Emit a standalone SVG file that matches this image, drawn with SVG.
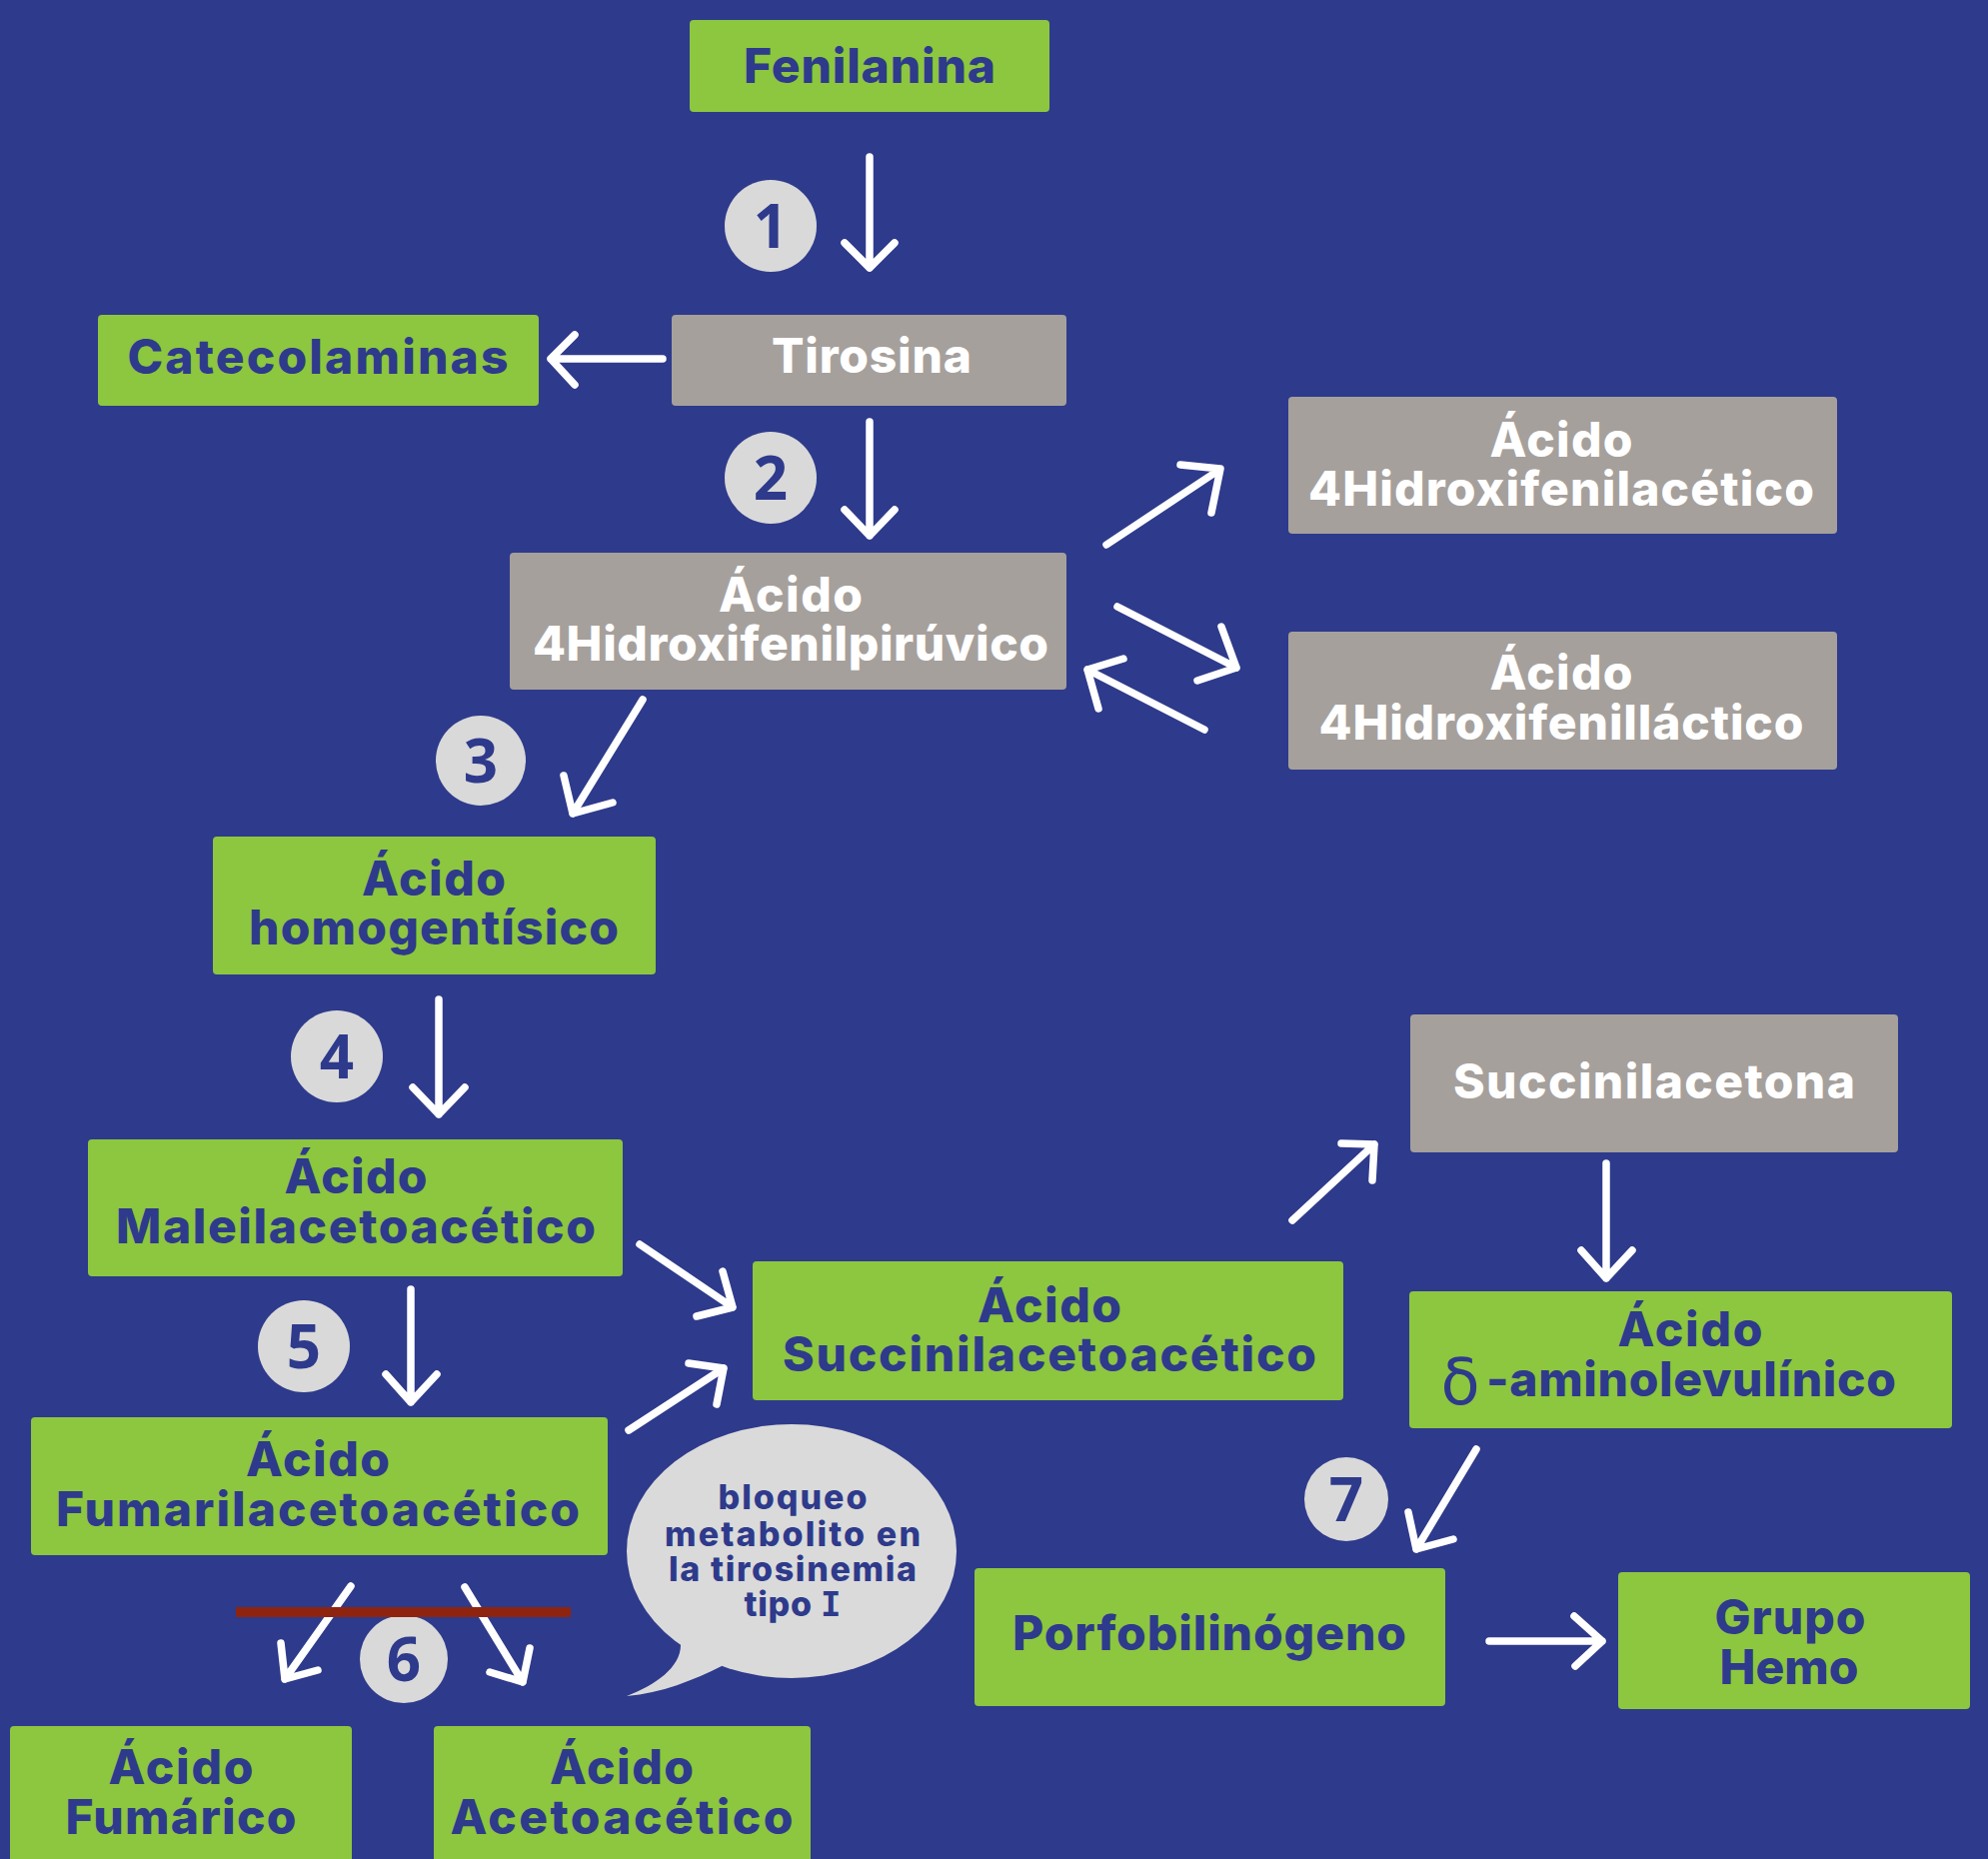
<svg xmlns="http://www.w3.org/2000/svg" width="1989" height="1860" viewBox="0 0 1989 1860">
<style>
.bg{fill:#2e3a8b}
.g{fill:#8dc63f}
.y{fill:#a6a09c}
.t{font-family:Inter,"Liberation Sans",sans-serif;font-weight:800;font-size:48px;text-anchor:middle}
.d{fill:#2e3a8b}
.w{fill:#ffffff}
.c{fill:#d9d9d9}
.n{font-family:"Open Sans","Liberation Sans",sans-serif;font-weight:700;font-size:60px;text-anchor:middle;fill:#2e3a8b}
.a{fill:none;stroke:#ffffff;stroke-width:7.5;stroke-linecap:round;stroke-linejoin:round}
.b{font-family:Inter,"Liberation Sans",sans-serif;font-weight:800;font-size:34px;text-anchor:middle;fill:#2e3a8b}
</style>
<rect class="bg" x="0" y="0" width="1989" height="1860"/>

<g id="connectors">
<path class="a" d="M870,157 L870,268 M845,243 L870,268 L895,243"/>
<path class="a" d="M870,422 L870,536 M845,510 L870,536 L895,510"/>
<path class="a" d="M663,359 L551,359 M575,335 L551,359 L575,385"/>
<path class="a" d="M1107,545 L1220,470 M1181,465 L1221,469 L1212,513"/>
<path class="a" d="M1118,607 L1237,668 M1222,627 L1237,668 L1198,681"/>
<path class="a" d="M1205,730 L1088,670 M1124,659 L1088,670 L1099,709"/>
<path class="a" d="M643,700 L573,814 M564,776 L573,814 L613,803"/>
<path class="a" d="M439,1000 L439,1115 M413,1088 L439,1115 L465,1088"/>
<path class="a" d="M640,1245 L733,1308 M723,1272 L733,1308 L697,1317"/>
<path class="a" d="M411,1290 L411,1403 M386,1375 L411,1403 L437,1375"/>
<path class="a" d="M629,1431 L724,1369 M689,1364 L724,1369 L717,1405"/>
<path class="a" d="M351,1587 L285,1680 M281,1644 L285,1680 L318,1671"/>
<path class="a" d="M465,1588 L523,1683 M490,1673 L523,1683 L530,1649"/>
<path class="a" d="M1293,1221 L1375,1145 M1342,1144 L1375,1145 L1373,1181"/>
<path class="a" d="M1607,1164 L1607,1279 M1582,1251 L1607,1279 L1633,1251"/>
<path class="a" d="M1477,1450 L1417,1550 M1409,1513 L1417,1550 L1454,1540"/>
<path class="a" d="M1490,1642 L1603,1642 M1575,1617 L1603,1642 L1576,1667"/>
</g>

<g id="step1"><circle class="c" cx="771" cy="226" r="46"/><text class="n" x="771" y="248">1</text></g>
<g id="step2"><circle class="c" cx="771" cy="478" r="46"/><text class="n" x="771" y="500">2</text></g>
<g id="step3"><circle class="c" cx="481" cy="761" r="45"/><text class="n" x="481" y="783">3</text></g>
<g id="step4"><circle class="c" cx="337" cy="1057" r="46"/><text class="n" x="337" y="1079">4</text></g>
<g id="step5"><circle class="c" cx="304" cy="1347" r="46"/><text class="n" x="304" y="1369">5</text></g>
<g id="step6"><circle class="c" cx="404" cy="1660" r="44"/><text class="n" x="404" y="1682">6</text></g>
<g id="step7"><circle class="c" cx="1347" cy="1500" r="42"/><text class="n" x="1347" y="1522">7</text></g>

<g id="block"><rect x="236" y="1608" width="335" height="10" fill="#8e2410"/></g>

<g id="fenilanina"><rect class="g" x="690" y="20" width="360" height="92" rx="4"/><text class="t d" x="870" y="83" textLength="252">Fenilanina</text></g>
<g id="catecolaminas"><rect class="g" x="98" y="315" width="441" height="91" rx="4"/><text class="t d" x="318" y="374" textLength="381">Catecolaminas</text></g>
<g id="tirosina"><rect class="y" x="672" y="315" width="395" height="91" rx="4"/><text class="t w" x="872" y="373" textLength="200">Tirosina</text></g>
<g id="piruvico"><rect class="y" x="510" y="553" width="557" height="137" rx="4"/><text class="t w"><tspan x="791" y="612" textLength="144">Ácido</tspan><tspan x="791" y="661" textLength="516">4Hidroxifenilpirúvico</tspan></text></g>
<g id="acetico"><rect class="y" x="1289" y="397" width="549" height="137" rx="4"/><text class="t w"><tspan x="1562" y="457" textLength="143">Ácido</tspan><tspan x="1562" y="506" textLength="506">4Hidroxifenilacético</tspan></text></g>
<g id="lactico"><rect class="y" x="1289" y="632" width="549" height="138" rx="4"/><text class="t w"><tspan x="1562" y="690" textLength="143">Ácido</tspan><tspan x="1562" y="740" textLength="485">4Hidroxifenilláctico</tspan></text></g>
<g id="homogentisico"><rect class="g" x="213" y="837" width="443" height="138" rx="4"/><text class="t d"><tspan x="434" y="896" textLength="144">Ácido</tspan><tspan x="434" y="945" textLength="370">homogentísico</tspan></text></g>
<g id="maleilacetoacetico"><rect class="g" x="88" y="1140" width="535" height="137" rx="4"/><text class="t d"><tspan x="356" y="1194" textLength="143">Ácido</tspan><tspan x="356" y="1244" textLength="480">Maleilacetoacético</tspan></text></g>
<g id="succinilacetoacetico"><rect class="g" x="753" y="1262" width="591" height="139" rx="4"/><text class="t d"><tspan x="1050" y="1323" textLength="144">Ácido</tspan><tspan x="1050" y="1372" textLength="534">Succinilacetoacético</tspan></text></g>
<g id="fumarilacetoacetico"><rect class="g" x="31" y="1418" width="577" height="138" rx="4"/><text class="t d"><tspan x="318" y="1477" textLength="144">Ácido</tspan><tspan x="318" y="1527" textLength="524">Fumarilacetoacético</tspan></text></g>
<g id="fumarico"><rect class="g" x="10" y="1727" width="342" height="150" rx="4"/><text class="t d"><tspan x="181" y="1785" textLength="145">Ácido</tspan><tspan x="181" y="1835" textLength="231">Fumárico</tspan></text></g>
<g id="acetoacetico"><rect class="g" x="434" y="1727" width="377" height="150" rx="4"/><text class="t d"><tspan x="622" y="1785" textLength="144">Ácido</tspan><tspan x="622" y="1835" textLength="343">Acetoacético</tspan></text></g>
<g id="succinilacetona"><rect class="y" x="1411" y="1015" width="488" height="138" rx="4"/><text class="t w" x="1655" y="1099" textLength="402">Succinilacetona</text></g>
<g id="aminolevulinico"><rect class="g" x="1410" y="1292" width="543" height="137" rx="4"/><text class="t d"><tspan x="1691" y="1347" textLength="145">Ácido</tspan><tspan x="1461" y="1405" font-family="'DejaVu Sans',sans-serif" font-weight="400" font-size="64">δ</tspan><tspan x="1692" y="1397" textLength="410">-aminolevulínico</tspan></text></g>
<g id="porfobilinogeno"><rect class="g" x="975" y="1569" width="471" height="138" rx="4"/><text class="t d" x="1210" y="1651" textLength="394">Porfobilinógeno</text></g>
<g id="grupohemo"><rect class="g" x="1619" y="1573" width="352" height="137" rx="4"/><text class="t d"><tspan x="1791" y="1635" textLength="151">Grupo</tspan><tspan x="1790" y="1685" textLength="139">Hemo</tspan></text></g>

<g id="bubble">
<ellipse cx="792" cy="1552" rx="165" ry="127" fill="#dadada"/>
<path d="M678,1630 L681,1646 C681,1668 656,1686 627,1697 C662,1694 694,1681 722,1667 L728,1645 Z" fill="#dadada"/>
<text class="b"><tspan x="793" y="1510" textLength="149">bloqueo</tspan><tspan x="793" y="1547" textLength="256">metabolito en</tspan><tspan x="793" y="1582" textLength="248">la tirosinemia</tspan><tspan x="793" y="1617" textLength="97">tipo <tspan font-family="'DejaVu Sans Mono',monospace" font-weight="700">I</tspan></tspan></text>
</g>
</svg>
